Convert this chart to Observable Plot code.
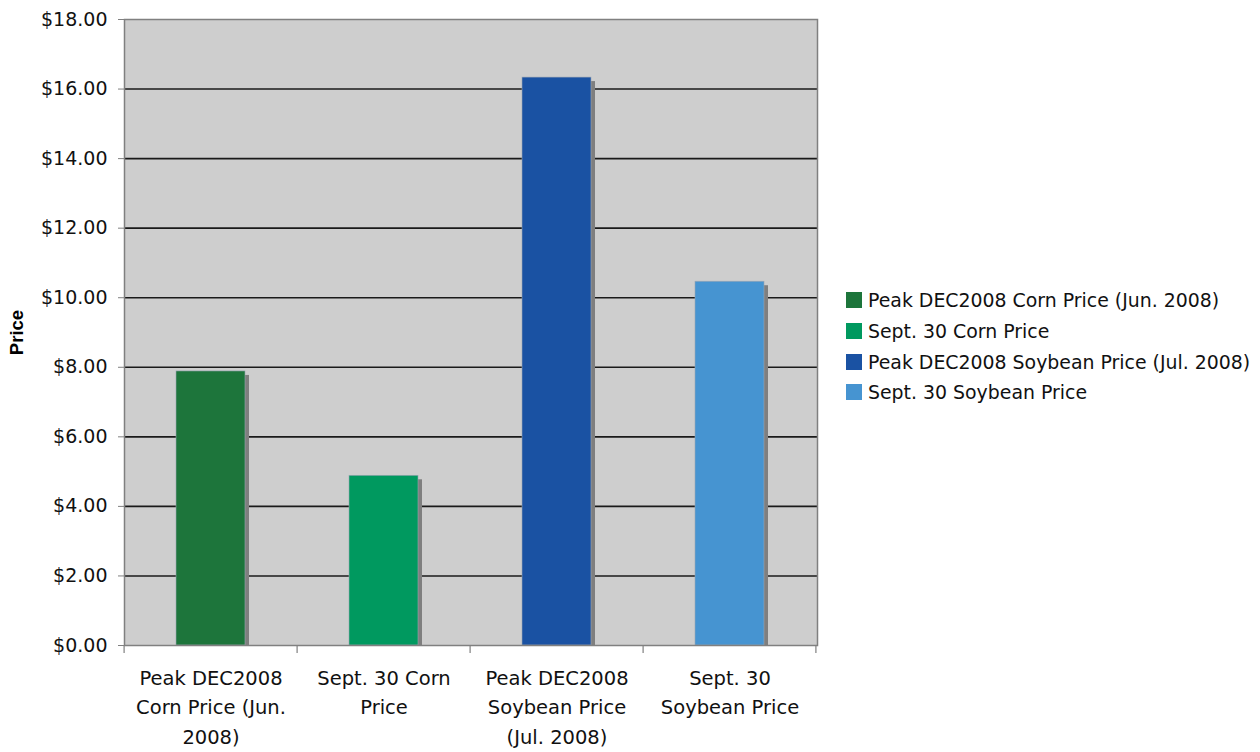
<!DOCTYPE html>
<html>
<head>
<meta charset="utf-8">
<script src="https://cdn.jsdelivr.net/npm/d3@7"></script>
<script src="https://cdn.jsdelivr.net/npm/@observablehq/plot@0.6"></script>
<style>
  html, body { margin: 0; padding: 0; background: #fff; }
  #wrap { position: relative; width: 1260px; height: 752px; }
  #legend { position: absolute; left: 846px; top: 285px; font-family: "DejaVu Sans", sans-serif; font-size: 18.9px; color: #111; }
  .row { display: flex; align-items: center; height: 30.7px; white-space: nowrap; }
  .sw { width: 16px; height: 16px; margin-right: 6px; }
</style>
</head>
<body>
<div id="wrap"><div id="legend"></div></div>
<script>
const categories = [
  "Peak DEC2008 Corn Price (Jun. 2008)",
  "Sept. 30 Corn Price",
  "Peak DEC2008 Soybean Price (Jul. 2008)",
  "Sept. 30 Soybean Price"
];
const tickLabels = [
  "Peak DEC2008\nCorn Price (Jun.\n2008)",
  "Sept. 30 Corn\nPrice",
  "Peak DEC2008\nSoybean Price\n(Jul. 2008)",
  "Sept. 30\nSoybean Price"
];
const prices = [7.88, 4.88, 16.33, 10.46];
const colors = ["#1d753b", "#00995f", "#1a52a3", "#4694d1"];
const yTicks = [0, 2, 4, 6, 8, 10, 12, 14, 16, 18];
const gridTicks = [2, 4, 6, 8, 10, 12, 14, 16];

const data = categories.map((c, i) => ({cat: c, price: prices[i], label: tickLabels[i]}));

const W = 1260, H = 752, ML = 124, MR = 443, MT = 19, MB = 107;

const chart = Plot.plot({
  width: W, height: H,
  marginLeft: ML, marginRight: MR, marginTop: MT, marginBottom: MB,
  style: {fontFamily: "DejaVu Sans, sans-serif", background: "transparent"},
  x: {type: "band", domain: categories, paddingInner: 0.6, paddingOuter: 0.3, axis: null},
  y: {type: "linear", domain: [0, 18], axis: null},
  color: {domain: categories, range: colors},
  marks: [
    Plot.frame({fill: "#cecece", stroke: null}),
    Plot.ruleY(gridTicks, {stroke: "#1a1a1a", strokeWidth: 1.6}),
    Plot.barY(data, {x: "cat", y: "price", fill: "#7f7f7f", dx: 4, dy: 4, insetBottom: 4}),
    Plot.barY(data, {x: "cat", y: "price", fill: "cat", stroke: "#9aa5b3", strokeWidth: 0.6}),
    Plot.frame({stroke: "#808080", strokeWidth: 1.5}),
    Plot.axisY({ticks: yTicks, tickSize: 6, tickPadding: 11, stroke: "#808080", fontSize: 19, fill: "#111",
      label: null, tickFormat: d => "$" + d.toFixed(2)}),
    Plot.axisX({tickSize: 0, tickPadding: 18, fontSize: 19.5, fill: "#111", lineHeight: 1.52, label: null,
      tickFormat: d => tickLabels[categories.indexOf(d)]}),
    Plot.text(["Price"], {frameAnchor: "left", textAnchor: "middle", rotate: -90, dx: -107, text: d => d,
      fontFamily: "Liberation Sans, Arial, sans-serif", fontWeight: "bold", fontSize: 18.5, fill: "#000"})
  ]
});

document.getElementById("wrap").prepend(chart);

// boundary ticks below the x axis, between categories
const svg = d3.select(chart);
const xs = chart.scale("x");
const ys = chart.scale("y");
const gap = xs.step * xs.paddingInner / 2;
const bounds = categories.map(c => xs.apply(c) - gap);
bounds.push(xs.apply(categories[categories.length - 1]) + xs.bandwidth + gap);
svg.append("g").selectAll("line").data(bounds).join("line")
  .attr("x1", d => d).attr("x2", d => d)
  .attr("y1", ys.apply(0)).attr("y2", ys.apply(0) + 8)
  .attr("stroke", "#808080").attr("stroke-width", 1.2);

const legend = d3.select("#legend");
categories.forEach((c, i) => {
  const row = legend.append("div").attr("class", "row");
  row.append("div").attr("class", "sw").style("background", colors[i]);
  row.append("span").text(c);
});
</script>
</body>
</html>
